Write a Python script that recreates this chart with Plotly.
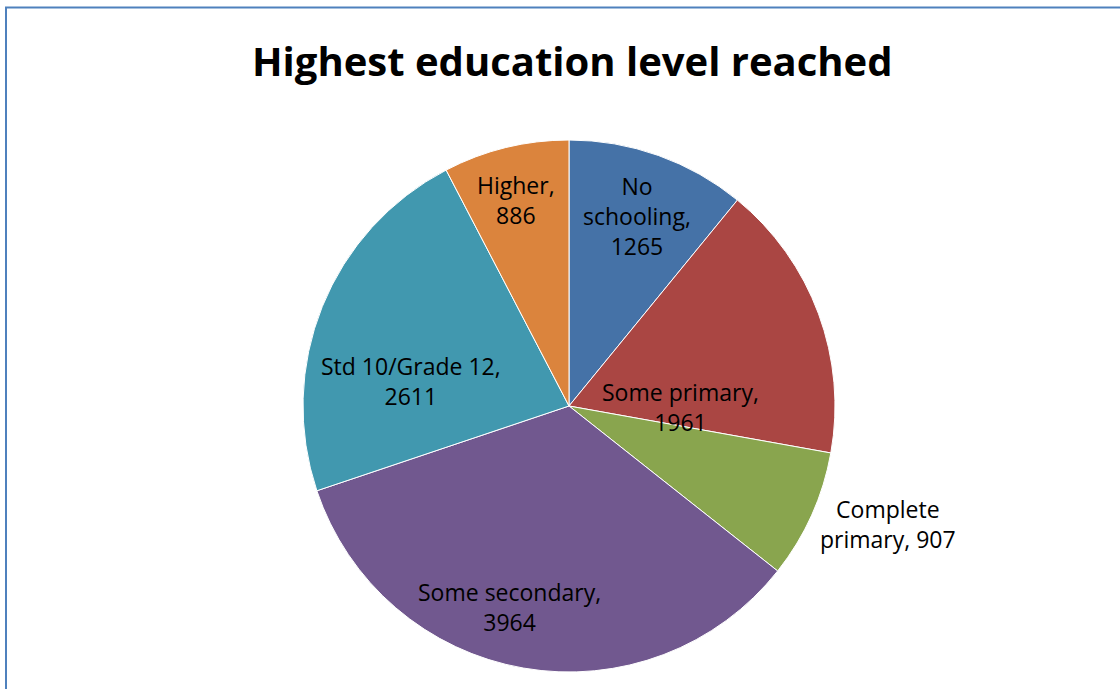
import math
import plotly.graph_objects as go

categories = ["No schooling", "Some primary", "Complete primary",
              "Some secondary", "Std 10/Grade 12", "Higher"]
values = [1265, 1961, 907, 3964, 2611, 886]
label_texts = ["No<br>schooling,<br>1265", "Some primary,<br>1961",
               "Complete<br>primary, 907", "Some secondary,<br>3964",
               "Std 10/Grade 12,<br>2611", "Higher,<br>886"]
colors = ["#4572A7", "#AA4643", "#89A54E", "#71588F", "#4198AF", "#DB843D"]

# label placement style: (radius fraction, angle shift in degrees)
label_style = [(0.76, 0.0), (0.42, 20.8), (1.28, -4.0),
               (0.79, 6.7), (0.60, -13.0), (0.80, -0.6)]

W, H = 1120, 689
cx, cy, R = 569, 406, 266  # pie centre / radius in px (layout)

fig = go.Figure()
fig.add_trace(go.Pie(
    labels=categories, values=values, sort=False, direction="clockwise",
    rotation=0, textinfo="none", hoverinfo="label+value",
    marker=dict(colors=colors, line=dict(color="white", width=1)),
    domain=dict(x=[(cx - R) / W, (cx + R) / W], y=[(H - cy - R) / H, (H - cy + R) / H]),
    showlegend=False,
))

total = sum(values)
cum = 0.0
annotations = []
for v, txt, (rf, shift) in zip(values, label_texts, label_style):
    mid = (cum + v / 2) / total * 360.0 + shift
    cum += v
    a = math.radians(mid)
    px = cx + rf * R * math.sin(a)
    py = cy - rf * R * math.cos(a)
    annotations.append(dict(
        x=px / W, y=1 - py / H, xref="paper", yref="paper",
        text=txt, showarrow=False, xanchor="center", yanchor="middle",
        font=dict(family="Open Sans", size=23, color="black"), align="center",
    ))

annotations.append(dict(
    x=572 / W, y=1 - 60 / H, xref="paper", yref="paper",
    text="<b>Highest education level reached</b>", showarrow=False,
    xanchor="center", yanchor="middle",
    font=dict(family="Open Sans", size=40, color="black"),
))

fig.update_layout(
    width=W, height=H, autosize=False,
    margin=dict(l=0, r=0, t=0, b=0),
    paper_bgcolor="white", plot_bgcolor="white",
    annotations=annotations,
    shapes=[dict(type="rect", xref="paper", yref="paper",
                 x0=6 / W, x1=1.05, y0=-0.05, y1=1 - 7.5 / H,
                 line=dict(color="#4F81BD", width=2), fillcolor="rgba(0,0,0,0)")],
)

fig.write_html("out.html", config={"displayModeBar": False},
               post_script="document.body.style.margin='0';document.body.style.overflow='hidden';")
